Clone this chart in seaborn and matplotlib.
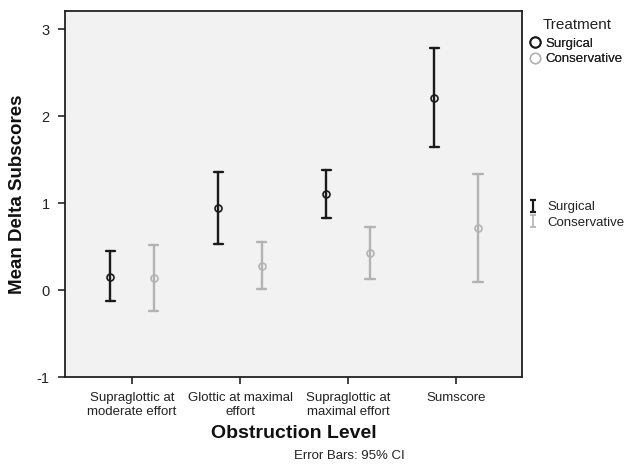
import numpy as np
import pandas as pd
import matplotlib
matplotlib.use("Agg")
import matplotlib.pyplot as plt
from matplotlib.lines import Line2D
from matplotlib.path import Path
import seaborn as sns

categories = ["Supraglottic at\nmoderate effort", "Glottic at maximal\neffort",
              "Supraglottic at\nmaximal effort", "Sumscore"]
treatments = ["Surgical", "Conservative"]
surgical_mean = [0.15, 0.94, 1.10, 2.21]
surgical_lo = [-0.13, 0.53, 0.83, 1.64]
surgical_hi = [0.45, 1.36, 1.38, 2.78]
conservative_mean = [0.14, 0.28, 0.43, 0.71]
conservative_lo = [-0.24, 0.01, 0.13, 0.09]
conservative_hi = [0.52, 0.55, 0.72, 1.33]
yticks = [-1, 0, 1, 2, 3]

black = "#1a1a1a"
gray = "#b3b3b3"

rows = []
for t, m, lo, hi in [("Surgical", surgical_mean, surgical_lo, surgical_hi),
                     ("Conservative", conservative_mean, conservative_lo, conservative_hi)]:
    for c, a, b, d in zip(categories, m, lo, hi):
        for v in (b, a, d):
            rows.append({"Obstruction": c, "Treatment": t, "value": v})
df = pd.DataFrame(rows)

sns.set_theme(style="white")
plt.rcParams["font.family"] = ["Liberation Sans", "DejaVu Sans"]

fig = plt.figure(figsize=(6.27, 4.65), dpi=100)
ax = fig.add_axes([65/627, 1-377/465, (522-65)/627, (377-11)/465])
ax.set_facecolor("#f2f2f2")

sns.pointplot(data=df, x="Obstruction", y="value", hue="Treatment",
              order=categories, hue_order=treatments,
              palette={"Surgical": black, "Conservative": gray},
              estimator="median", errorbar=lambda v: (v.min(), v.max()),
              dodge=0.4, linestyle="none", markers="o", capsize=0.09,
              err_kws={"linewidth": 1.7}, markersize=5, ax=ax, legend=False)
for ln in ax.lines:
    ln.set_markerfacecolor("none")
    ln.set_markeredgewidth(1.2)

ax.set_xlim(-0.62, 3.61)
ax.set_ylim(-1, 3.207)
ax.set_yticks(yticks)
ax.set_yticklabels([str(v) for v in yticks], fontsize=10.5, color="#222222")
ax.tick_params(axis="x", labelsize=9.5, colors="#222222", length=5, width=1.2,
               direction="out", bottom=True, pad=6)
ax.tick_params(axis="y", length=5, width=1.2, direction="out", left=True, pad=6)
for lab in ax.get_xticklabels():
    lab.set_linespacing(1.15)
for sp in ax.spines.values():
    sp.set_color("#222222")
    sp.set_linewidth(1.3)

ax.set_xlabel("Obstruction Level", fontsize=14, fontweight="bold", labelpad=5, color="#111111")
ax.set_ylabel("Mean Delta Subscores", fontsize=13.5, fontweight="bold", labelpad=8, color="#111111")
fig.text(349/627, 1-456/465, "Error Bars: 95% CI", ha="center", va="center", fontsize=9.5, color="#222222")

# legend 1
fig.text(577/627, 1-25/465, "Treatment", ha="center", va="center", fontsize=11, color="#222222")
h1 = [Line2D([], [], linestyle="none", marker="o", markersize=7.5, markerfacecolor="none",
             markeredgecolor=black, markeredgewidth=1.3),
      Line2D([], [], linestyle="none", marker="o", markersize=7.5, markerfacecolor="none",
             markeredgecolor=gray, markeredgewidth=1.0)]
leg1 = fig.legend(h1, treatments, loc="center left", bbox_to_anchor=(528/627, 1-51.5/465),
                  frameon=False, fontsize=9.5, handlelength=1.0, handletextpad=0.35,
                  labelspacing=0.25, borderpad=0, borderaxespad=0)

ibar = Path([(-0.5, 1), (0.5, 1), (0, 1), (0, -1), (-0.5, -1), (0.5, -1)],
            [Path.MOVETO, Path.LINETO, Path.MOVETO, Path.LINETO, Path.MOVETO, Path.LINETO])
h2 = [Line2D([], [], linestyle="none", marker=ibar, markersize=8, markerfacecolor="none",
             markeredgecolor=black, markeredgewidth=1.6),
      Line2D([], [], linestyle="none", marker=ibar, markersize=8, markerfacecolor="none",
             markeredgecolor=gray, markeredgewidth=1.2)]
leg2 = fig.legend(h2, treatments, loc="center left", bbox_to_anchor=(526/627, 1-215/465),
                  frameon=False, fontsize=9.5, handlelength=1.0, handletextpad=0.6,
                  labelspacing=0.25, borderpad=0, borderaxespad=0)
for t in leg1.get_texts() + leg2.get_texts():
    t.set_color("#222222")
fig.add_artist(leg1)

fig.savefig("out.png", dpi=100)
